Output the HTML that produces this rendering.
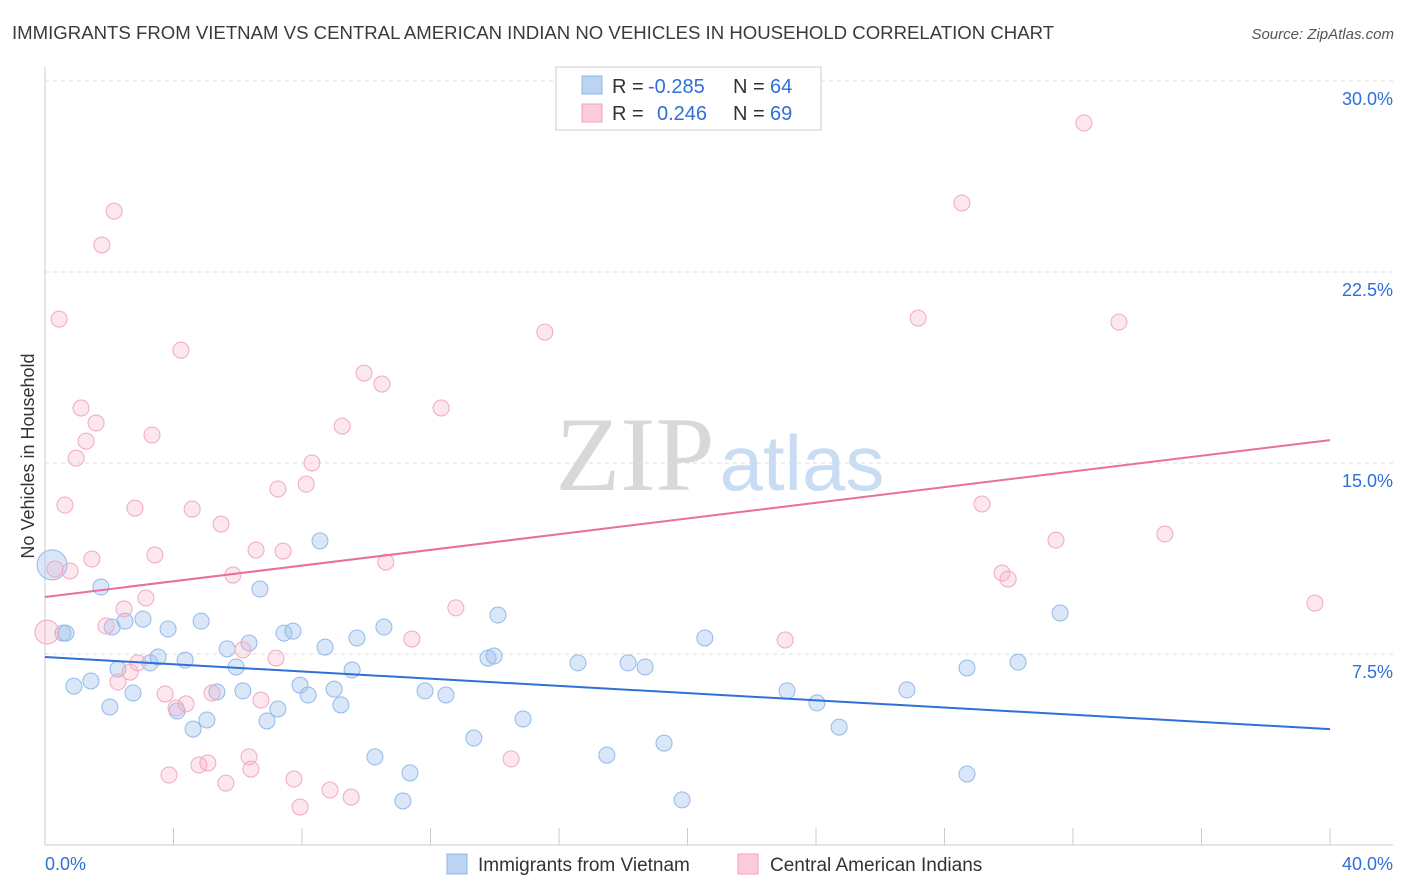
<!DOCTYPE html>
<html><head><meta charset="utf-8"><style>
body{margin:0;background:#fff;font-family:"Liberation Sans",sans-serif;}
svg{display:block}
</style></head><body>
<svg id="chart" width="1406" height="892" xmlns="http://www.w3.org/2000/svg" font-family="Liberation Sans, sans-serif">
<text x="12" y="39" font-size="18.6" fill="#3a3a3a">IMMIGRANTS FROM VIETNAM VS CENTRAL AMERICAN INDIAN NO VEHICLES IN HOUSEHOLD CORRELATION CHART</text>
<text x="1394" y="39" font-size="15" fill="#555" text-anchor="end" font-style="italic">Source: ZipAtlas.com</text>
<g>
<text x="635" y="490" font-size="106" fill="#d8d8d8" font-family="Liberation Serif, serif" text-anchor="middle">ZIP</text>
<text x="802" y="490" font-size="78" fill="#c8dcf3" text-anchor="middle">atlas</text>
</g>
<g id="grid"></g>
<g id="axes"></g>
<g id="pts"></g>
<g id="lines"></g>
<text transform="translate(34,456) rotate(-90)" font-size="18" fill="#333" text-anchor="middle">No Vehicles in Household</text>
<g>
<rect x="556" y="67" width="265" height="63" fill="#fff" stroke="#ccc"/>
<rect x="582" y="76" width="20" height="18" fill="#bcd4f4" stroke="#8fb6e8"/>
<text x="612" y="93" font-size="20" fill="#333">R = </text><text x="648" y="93" font-size="20" fill="#2f6fd8">-0.285</text>
<text x="733" y="93" font-size="20" fill="#333">N = </text><text x="770" y="93" font-size="20" fill="#2f6fd8">64</text>
<rect x="582" y="104" width="20" height="18" fill="#fbcbdb" stroke="#f0a0bb"/>
<text x="612" y="120" font-size="20" fill="#333">R = </text><text x="657" y="120" font-size="20" fill="#2f6fd8">0.246</text>
<text x="733" y="120" font-size="20" fill="#333">N = </text><text x="770" y="120" font-size="20" fill="#2f6fd8">69</text>
</g>
<g>
<rect x="447" y="854" width="20" height="20" fill="#bcd4f4" stroke="#8fb6e8"/>
<text x="478" y="871" font-size="19" fill="#333">Immigrants from Vietnam</text>
<rect x="738" y="854" width="20" height="20" fill="#fbcbdb" stroke="#f0a0bb"/>
<text x="770" y="871" font-size="19" fill="#333">Central American Indians</text>
</g>
</svg>
<script>
const blueX=[0.22,0.56,0.65,0.9,1.43,1.74,2.02,2.09,2.27,2.49,2.74,3.05,3.27,3.52,3.83,4.11,4.36,4.61,4.86,5.04,5.35,5.67,5.95,6.16,6.35,6.69,6.91,7.25,7.44,7.72,7.94,8.19,8.56,8.72,9.0,9.21,9.56,9.71,10.27,10.55,11.36,11.14,11.83,12.48,13.35,13.79,13.98,14.1,14.88,16.59,17.49,18.15,18.68,19.27,19.83,20.54,23.1,24.03,24.72,26.83,28.7,28.7,30.29,31.6];
const blueY=[11.0,8.32,8.32,6.24,6.44,10.13,5.42,8.56,6.91,8.79,5.97,8.87,7.15,7.38,8.48,5.26,7.26,4.55,8.79,4.91,6.01,7.70,6.99,6.05,7.93,10.05,4.87,5.34,8.32,8.40,6.28,5.89,11.94,7.77,6.12,5.50,6.87,8.13,3.46,8.56,2.83,1.73,6.05,5.89,4.20,7.34,7.42,9.03,4.95,7.15,3.53,7.15,6.99,4.00,1.77,8.13,6.05,5.58,4.63,6.09,6.95,2.79,7.18,9.11];
const pinkX=[0.06,0.31,0.44,0.62,0.78,0.97,1.12,1.28,1.46,1.59,1.77,1.9,2.15,2.27,2.46,2.65,2.8,2.89,3.14,3.33,3.42,3.74,3.86,4.08,4.23,4.39,4.58,4.79,5.07,5.2,5.48,5.63,5.85,6.16,6.35,6.41,6.57,6.72,7.19,7.25,7.41,7.75,7.94,8.13,8.31,8.87,9.25,9.53,9.93,10.49,10.61,11.42,12.33,12.79,14.51,15.56,23.04,27.18,28.54,29.17,29.79,29.98,31.47,32.34,33.43,34.86,39.53];
const pinkY=[8.36,10.84,20.65,13.35,10.76,15.19,17.16,15.86,11.23,16.57,23.56,8.6,24.89,6.4,9.27,6.79,13.23,7.15,9.70,16.10,11.39,5.93,2.75,5.38,19.43,5.54,13.19,3.14,3.22,5.97,12.6,2.43,10.6,7.66,3.46,2.98,11.58,5.69,7.34,13.98,11.54,2.59,1.49,14.17,15.0,2.16,16.45,1.88,18.53,18.1,11.11,8.09,17.16,9.31,3.38,20.14,8.05,20.69,25.21,13.39,10.68,10.44,11.97,28.35,20.53,12.21,9.5];
const blueTrend=[7.38,4.55];
const pinkTrend=[9.74,15.9];
const xTicks=[0,40];
const yTicks=[7.5,15.0,22.5,30.0];
const NS="http://www.w3.org/2000/svg";
const sx=v=>45+v/40*1285;
const sy=v=>845-v/7.5*191;
function mk(tag,attrs,parent){const e=document.createElementNS(NS,tag);for(const k in attrs)e.setAttribute(k,attrs[k]);document.getElementById(parent).appendChild(e);return e;}
yTicks.forEach(t=>{
 const l=mk('line',{x1:45,x2:1393,y1:sy(t),y2:sy(t),stroke:'#ddd','stroke-dasharray':'4,4'},'grid');
 
 
 const tx=mk('text',{x:1393,y:sy(t)+24,'font-size':18,fill:'#2f6fd8','text-anchor':'end'},'grid');
 tx.textContent=t.toFixed(1)+'%';
 
 
});
let ax=mk('line',{x1:45,x2:45,y1:67,y2:845,stroke:'#ccc'},'axes');


ax=mk('line',{x1:45,x2:1393,y1:845,y2:845,stroke:'#ccc'},'axes');


for(let i=0;i<=10;i++){
 const tk=mk('line',{x1:sx(i*4),x2:sx(i*4),y1:828,y2:845,stroke:'#ccc'},'axes');
 
 
}
xTicks.forEach((t,i)=>{
 const tx=mk('text',{x:i==0?45:1393,y:870,'font-size':18,fill:'#2f6fd8','text-anchor':i==0?'start':'end'},'axes');
 tx.textContent=t.toFixed(1)+'%';
 
 
});
blueX.forEach((x,i)=>{
 const c=mk('circle',{cx:sx(x),cy:sy(blueY[i]),r:i==0?15:8,fill:'rgba(160,196,240,0.4)',stroke:'#94b9e8','stroke-width':1},'pts');
 
 
});
pinkX.forEach((x,i)=>{
 const c=mk('circle',{cx:sx(x),cy:sy(pinkY[i]),r:i==0?12:8,fill:'rgba(245,175,200,0.3)',stroke:'#f2a8c0','stroke-width':1},'pts');
 
 
});
let tl=mk('line',{x1:sx(0),x2:sx(40),y1:sy(blueTrend[0]),y2:sy(blueTrend[1]),stroke:'#2f6fd8','stroke-width':2},'lines');


tl=mk('line',{x1:sx(0),x2:sx(40),y1:sy(pinkTrend[0]),y2:sy(pinkTrend[1]),stroke:'#e8709a','stroke-width':2},'lines');


</script>
</body></html>
